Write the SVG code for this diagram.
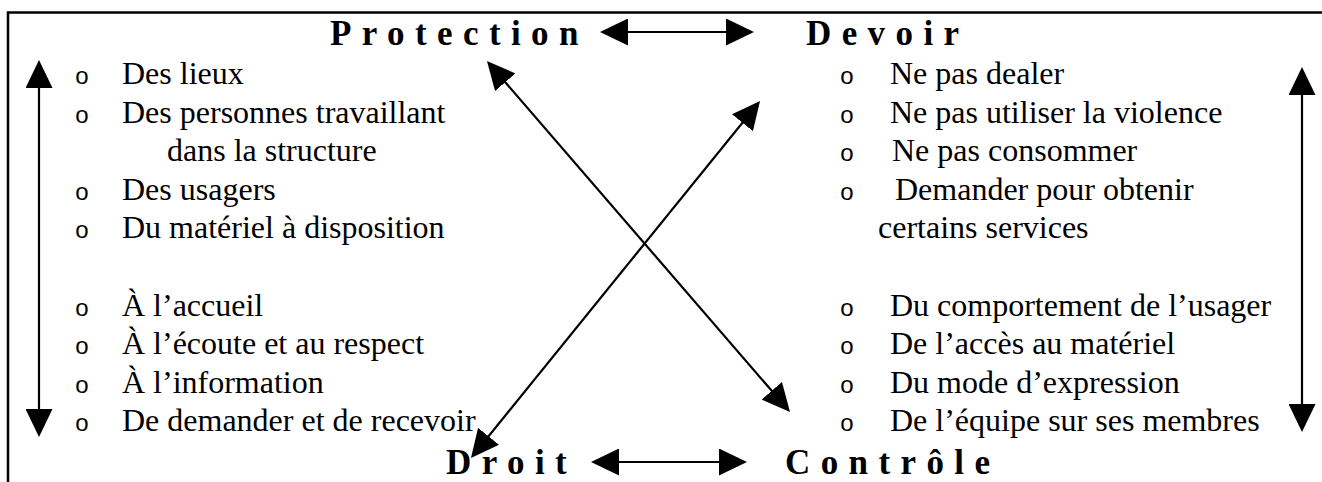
<svg xmlns="http://www.w3.org/2000/svg" width="1322" height="482" viewBox="0 0 1322 482">
<style>
.t{font-family:"Liberation Serif","Times New Roman",serif;font-size:32px;fill:#000}
.h{font-family:"Liberation Serif","Times New Roman",serif;font-size:35px;font-weight:bold;letter-spacing:10.4px;fill:#000}
.b{font-family:"Liberation Sans",Arial,sans-serif;font-size:24px;text-anchor:middle;fill:#000}
.c{stroke:#000;stroke-width:2.2;fill:none}
.frame{stroke:#000;stroke-width:2.5;fill:none}
</style>
<defs>
<marker id="ah" viewBox="0 0 28 27" refX="20" refY="13.5" markerWidth="28" markerHeight="27" markerUnits="userSpaceOnUse" orient="auto-start-reverse">
<path d="M0,0 L28,13.5 L0,27 Z" fill="#000"/>
</marker>
</defs>
<rect width="1322" height="482" fill="#fff"/>
<path class="frame" d="M8,482 L8,12.5 L1322,12.5"/>

<g id="protection">
<text class="h" x="330" y="45">Protection</text>
<text class="b" x="82" y="84">o</text><text class="t" x="122" y="84">Des lieux</text>
<text class="b" x="82" y="123">o</text><text class="t" x="122" y="123">Des personnes travaillant</text>
<text class="t" x="167" y="161">dans la structure</text>
<text class="b" x="82" y="200">o</text><text class="t" x="122" y="200">Des usagers</text>
<text class="b" x="82" y="238">o</text><text class="t" x="122" y="238">Du matériel à disposition</text>
</g>

<g id="droit">
<text class="b" x="82" y="316">o</text><text class="t" x="122" y="316">À l’accueil</text>
<text class="b" x="82" y="354">o</text><text class="t" x="122" y="354">À l’écoute et au respect</text>
<text class="b" x="82" y="393">o</text><text class="t" x="122" y="393">À l’information</text>
<text class="b" x="82" y="431">o</text><text class="t" x="122" y="431">De demander et de recevoir</text>
<text class="h" x="446" y="474">Droit</text>
</g>

<g id="devoir">
<text class="h" x="806" y="45">Devoir</text>
<text class="b" x="847" y="84">o</text><text class="t" x="890" y="84">Ne pas dealer</text>
<text class="b" x="847" y="123">o</text><text class="t" x="890" y="123">Ne pas utiliser la violence</text>
<text class="b" x="847" y="161">o</text><text class="t" x="892" y="161">Ne pas consommer</text>
<text class="b" x="847" y="200">o</text><text class="t" x="895" y="200">Demander pour obtenir</text>
<text class="t" x="878" y="238">certains services</text>
</g>

<g id="controle">
<text class="b" x="847" y="316">o</text><text class="t" x="890" y="316">Du comportement de l’usager</text>
<text class="b" x="847" y="354">o</text><text class="t" x="890" y="354">De l’accès au matériel</text>
<text class="b" x="847" y="393">o</text><text class="t" x="890" y="393">Du mode d’expression</text>
<text class="b" x="847" y="431">o</text><text class="t" x="890" y="431">De l’équipe sur ses membres</text>
<text class="h" x="785" y="474">Contrôle</text>
</g>

<g id="connectors">
<line class="c" x1="608" y1="32" x2="746" y2="32" marker-start="url(#ah)" marker-end="url(#ah)"/>
<line class="c" x1="599" y1="462" x2="739" y2="462" marker-start="url(#ah)" marker-end="url(#ah)"/>
<line class="c" x1="39" y1="68" x2="39" y2="429" marker-start="url(#ah)" marker-end="url(#ah)"/>
<line class="c" x1="1302" y1="75" x2="1302" y2="424" marker-start="url(#ah)" marker-end="url(#ah)"/>
<line class="c" x1="492.2" y1="67.1" x2="784.8" y2="405.9" marker-start="url(#ah)" marker-end="url(#ah)"/>
<line class="c" x1="755" y1="107.2" x2="476" y2="451.8" marker-start="url(#ah)" marker-end="url(#ah)"/>
</g>
</svg>
